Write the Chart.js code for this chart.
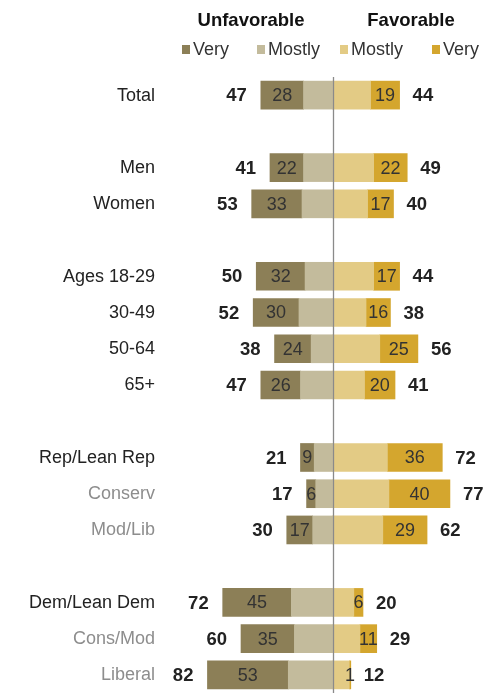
<!DOCTYPE html>
<html><head><meta charset="utf-8">
<script src="https://cdn.jsdelivr.net/npm/chart.js@4"></script>
<style>html,body{margin:0;padding:0;background:#fff;overflow:hidden}#wrap{position:relative;width:485px;height:693px}</style>
</head><body><div id="wrap"><canvas id="c"></canvas></div>
<script>
const categories = ["Total","","Men","Women","","Ages 18-29","30-49","50-64","65+","","Rep/Lean Rep","Conserv","Mod/Lib","","Dem/Lean Dem","Cons/Mod","Liberal"];
const subgroupRows = ["Conserv","Mod/Lib","Cons/Mod","Liberal"];
const unfavTotal = [47,null,41,53,null,50,52,38,47,null,21,17,30,null,72,60,82];
const unfavVery  = [28,null,22,33,null,32,30,24,26,null,9,6,17,null,45,35,53];
const favTotal   = [44,null,49,40,null,44,38,56,41,null,72,77,62,null,20,29,12];
const favVery    = [19,null,22,17,null,17,16,25,20,null,36,40,29,null,6,11,1];
const legendLabels = ["Very","Mostly","Mostly","Very"];
const colors = {unfVery:"#8C7F57", unfMostly:"#C3BB9C", favMostly:"#E3CB85", favVery:"#D4A62E"};

const unfavMostly = unfavTotal.map((t,i)=> t==null?null:-(t-unfavVery[i]));
const unfavVeryNeg = unfavVery.map(v=> v==null?null:-v);
const favMostly = favTotal.map((t,i)=> t==null?null:(t-favVery[i]));

const FONT = "'Liberation Sans', Arial, sans-serif";

const labelPlugin = {
  id:'labels',
  afterDatasetsDraw(chart){
    const ctx = chart.ctx, x = chart.scales.x, y = chart.scales.y;
    ctx.save();
    const cx = Math.round(x.getPixelForValue(0)) + 0.5;
    ctx.strokeStyle = "#8a8a8a"; ctx.lineWidth = 1.3;
    ctx.beginPath(); ctx.moveTo(cx, chart.chartArea.top); ctx.lineTo(cx, chart.chartArea.bottom); ctx.stroke();
    ctx.textBaseline = "middle";
    categories.forEach((c,i)=>{
      if (unfavTotal[i]==null) return;
      const py = y.getPixelForValue(i) + 1;
      ctx.font = "bold 18.5px " + FONT; ctx.fillStyle = "#222";
      ctx.textAlign = "right";
      ctx.fillText(String(unfavTotal[i]), x.getPixelForValue(-unfavTotal[i]) - 14, py);
      ctx.textAlign = "left";
      ctx.fillText(String(favTotal[i]), x.getPixelForValue(favTotal[i]) + 13, py);
      ctx.font = "18px " + FONT; ctx.fillStyle = "#333"; ctx.textAlign = "center";
      const ul = x.getPixelForValue(-unfavTotal[i]), ur = x.getPixelForValue(-(unfavTotal[i]-unfavVery[i]));
      ctx.fillText(String(unfavVery[i]), (ul+ur)/2, py);
      const fl = x.getPixelForValue(favTotal[i]-favVery[i]), fr = x.getPixelForValue(favTotal[i]);
      ctx.fillText(String(favVery[i]), (fl+fr)/2, py);
    });
    ctx.font = "bold 18.5px " + FONT; ctx.fillStyle = "#111"; ctx.textAlign = "center";
    ctx.fillText("Unfavorable", 251, 21);
    ctx.fillText("Favorable", 411, 21);
    const lx = [182, 257, 340, 432];
    const lc = [colors.unfVery, colors.unfMostly, colors.favMostly, colors.favVery];
    ctx.font = "18px " + FONT; ctx.textAlign = "left";
    legendLabels.forEach((t,k)=>{
      ctx.fillStyle = lc[k]; ctx.fillRect(lx[k], 45, 8, 9);
      ctx.fillStyle = "#333"; ctx.fillText(t, lx[k]+11, 50);
    });
    ctx.restore();
  }
};

new Chart(document.getElementById('c'), {
  type:'bar',
  data:{
    labels: categories,
    datasets:[
      {label:"Unfavorable Mostly", data:unfavMostly, backgroundColor:colors.unfMostly, stack:'s'},
      {label:"Unfavorable Very", data:unfavVeryNeg, backgroundColor:colors.unfVery, stack:'s'},
      {label:"Favorable Mostly", data:favMostly, backgroundColor:colors.favMostly, stack:'s'},
      {label:"Favorable Very", data:favVery, backgroundColor:colors.favVery, stack:'s'}
    ]
  },
  options:{
    indexAxis:'y',
    responsive:true,
    maintainAspectRatio:false,
    animation:false,
    barThickness:28,
    layout:{padding:{top:77, bottom:0, left:0, right:0}},
    plugins:{legend:{display:false}, tooltip:{enabled:false}},
    scales:{
      x:{type:'linear', min:-100, max:100, stacked:true, display:false},
      y:{type:'category', stacked:true,
         grid:{display:false, drawTicks:false}, border:{display:false},
         ticks:{padding:25, labelOffset:0.5, autoSkip:false, font:{family:FONT, size:18},
           color:(ctx)=> subgroupRows.includes(categories[ctx.index]) ? "#8d8d8d" : "#222"},
         afterFit:(s)=>{ s.width = 180; s.paddingTop = 0; s.paddingBottom = 0; }
      }
    }
  },
  plugins:[labelPlugin]
});
</script></body></html>
